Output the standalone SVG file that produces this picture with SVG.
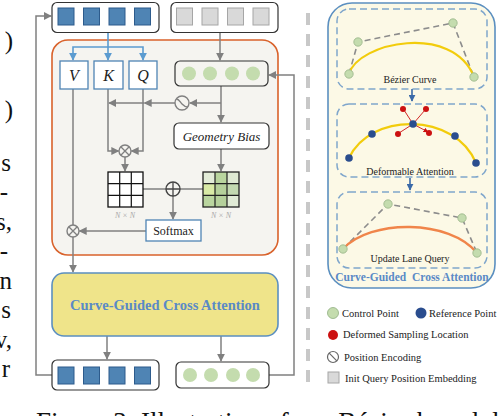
<svg xmlns="http://www.w3.org/2000/svg" width="498" height="416" viewBox="0 0 498 416">
<defs>
<style>
.t{font-family:"Liberation Serif","Times New Roman",serif;fill:#222}
.ln{fill:none;stroke:#808080;stroke-width:1.5}
.bl{fill:none;stroke:#5b9bd0;stroke-width:1.6}
.tok{fill:#fff;stroke:#333;stroke-width:1.2}
.bsq{fill:#4f84b4;stroke:#2d5b8c;stroke-width:1}
.gsq{fill:#d9d9d9;stroke:#a6a6a6;stroke-width:1}
.gc{fill:#c4dcae;stroke:none}
.gcs{fill:#c4dcae;stroke:#98b488;stroke-width:0.8}
.bp{fill:#2a4d8e}
.rp{fill:#cc1111}
.sub{fill:none;stroke:#7fa6cc;stroke-width:1.5;stroke-dasharray:7 4}
.poly{fill:none;stroke:#8c8c8c;stroke-width:1.6;stroke-dasharray:6 4}
.lg{font-family:"Liberation Serif","Times New Roman",serif;font-size:10.5px;fill:#222}
.pg{font-family:"Liberation Serif","Times New Roman",serif;font-size:25px;fill:#111}
</style>
<marker id="ag" viewBox="0 0 10 10" refX="9" refY="5" markerWidth="8" markerHeight="8" markerUnits="userSpaceOnUse" orient="auto"><path d="M0,0 L10,5 L0,10 z" fill="#808080"/></marker>
<marker id="ab" viewBox="0 0 10 10" refX="9" refY="5" markerWidth="8" markerHeight="8" markerUnits="userSpaceOnUse" orient="auto"><path d="M0,0 L10,5 L0,10 z" fill="#5b9bd0"/></marker>
<marker id="ad" viewBox="0 0 10 10" refX="9" refY="5" markerWidth="7" markerHeight="7" markerUnits="userSpaceOnUse" orient="auto"><path d="M0,0 L10,5 L0,10 z" fill="#3a6aa8"/></marker>
<marker id="ar" viewBox="0 0 10 10" refX="9" refY="5" markerWidth="5" markerHeight="5" markerUnits="userSpaceOnUse" orient="auto"><path d="M0,0 L10,5 L0,10 z" fill="#cc1111"/></marker>
</defs>
<rect width="498" height="416" fill="#fff"/>

<!-- cut page text -->
<g id="page-text">
<text class="pg" x="13" y="49" text-anchor="end">)</text>
<text class="pg" x="13" y="118" text-anchor="end">)</text>
<text class="pg" x="11" y="171" text-anchor="end">s</text>
<text class="pg" x="8" y="200" text-anchor="end">-</text>
<text class="pg" x="12" y="230" text-anchor="end">s,</text>
<text class="pg" x="8" y="259" text-anchor="end">-</text>
<text class="pg" x="12" y="289" text-anchor="end">n</text>
<text class="pg" x="11" y="318" text-anchor="end">s</text>
<text class="pg" x="12" y="348" text-anchor="end">v,</text>
<text class="pg" x="10" y="377" text-anchor="end">r</text>
<text class="pg" x="36" y="431" style="font-size:27px">Figure 3: Illustration of our Bézier-based d</text>
</g>

<!-- orange block (background) -->
<g id="self-attn-block">
<rect x="52" y="40" width="226" height="215" rx="16" fill="#f5f4f0" stroke="#d9622b" stroke-width="1.6"/>
</g>

<!-- connectors -->
<g id="connectors">
<path class="ln" d="M52,375 H36 V16 H51" marker-end="url(#ag)"/>
<path class="ln" d="M269,375 H294 V75 H269" marker-end="url(#ag)"/>
<path class="bl" d="M108,32 V60" marker-end="url(#ab)"/>
<path class="bl" d="M108,47 H73 V60" marker-end="url(#ab)"/>
<path class="bl" d="M108,47 H143 V60" marker-end="url(#ab)"/>
<path class="ln" d="M220,32 V60" marker-end="url(#ag)"/>
<path class="ln" d="M221,86 V122" marker-end="url(#ag)"/>
<path class="ln" d="M221,103 H190" marker-end="url(#ag)"/>
<path class="ln" d="M175,103 H144.5" marker-end="url(#ag)"/>
<path class="ln" d="M144,103 H109" marker-end="url(#ag)"/>
<path class="ln" d="M108,89 V151 H118.5" marker-end="url(#ag)"/>
<path class="ln" d="M143,89 V151 H131.5" marker-end="url(#ag)"/>
<path class="ln" d="M125,157 V171" marker-end="url(#ag)"/>
<path class="ln" d="M221,149 V171" marker-end="url(#ag)"/>
<path class="ln" d="M143,189 H166 M180,189 H203"/>
<path class="ln" d="M173,196 V219" marker-end="url(#ag)"/>
<path class="ln" d="M146,231 H79.5" marker-end="url(#ag)"/>
<path class="ln" d="M73,89 V225"/>
<path class="ln" d="M73,237 V272" marker-end="url(#ag)"/>
<path class="ln" d="M107,336 V359" marker-end="url(#ag)"/>
<path class="ln" d="M221,336 V361" marker-end="url(#ag)"/>
</g>

<!-- top tokens -->
<g id="query-tokens-in">
<rect class="tok" x="52" y="2.5" width="107" height="30" rx="5"/>
<rect class="bsq" x="58" y="8" width="16" height="17"/>
<rect class="bsq" x="83.5" y="8" width="16" height="17"/>
<rect class="bsq" x="109" y="8" width="16" height="17"/>
<rect class="bsq" x="134.5" y="8" width="16" height="17"/>
</g>
<g id="pos-embed-in">
<rect class="tok" x="171" y="2.5" width="107" height="30" rx="5"/>
<rect class="gsq" x="176.5" y="8" width="16" height="17"/>
<rect class="gsq" x="202" y="8" width="16" height="17"/>
<rect class="gsq" x="227.5" y="8" width="16" height="17"/>
<rect class="gsq" x="253" y="8" width="16" height="17"/>
</g>

<g id="node-V">
<rect x="60" y="61" width="28" height="28" fill="#fff" stroke="#4f84b4" stroke-width="1.3"/>
<text class="t" x="74" y="81" font-size="16" font-style="italic" text-anchor="middle">V</text>
</g>
<g id="node-K">
<rect x="94" y="61" width="29" height="28" fill="#fff" stroke="#4f84b4" stroke-width="1.3"/>
<text class="t" x="108.5" y="81" font-size="16" font-style="italic" text-anchor="middle">K</text>
</g>
<g id="node-Q">
<rect x="129" y="61" width="28" height="28" fill="#fff" stroke="#4f84b4" stroke-width="1.3"/>
<text class="t" x="143" y="81" font-size="16" font-style="italic" text-anchor="middle">Q</text>
</g>
<g id="pos-query">
<rect class="tok" x="175" y="61" width="93" height="25" rx="5" style="fill:#f5f4f0"/>
<circle class="gc" cx="189" cy="73.5" r="7"/>
<circle class="gc" cx="210" cy="73.5" r="7"/>
<circle class="gc" cx="232" cy="73.5" r="7"/>
<circle class="gc" cx="253" cy="73.5" r="7"/>
</g>
<g id="pos-encoding">
<circle cx="182" cy="103" r="7" fill="#f5f4f0" stroke="#808080" stroke-width="1.4"/>
<path d="M176.5,99 C179,99 180,102 182,104 C184,106 185,107 187.5,107" fill="none" stroke="#808080" stroke-width="1.4"/>
</g>
<g id="geometry-bias">
<rect x="174" y="123" width="95" height="26" rx="5" fill="#fff" stroke="#333" stroke-width="1.2"/>
<text class="t" x="221.5" y="140.5" font-size="13" font-style="italic" text-anchor="middle">Geometry Bias</text>
</g>
<g id="mul-qk">
<circle cx="125" cy="151" r="6" fill="#f5f4f0" stroke="#808080" stroke-width="1.4"/>
<path d="M120.8,146.8 L129.2,155.2 M129.2,146.8 L120.8,155.2" stroke="#808080" stroke-width="1.3"/>
</g>
<g id="attn-map">
<rect x="108" y="172" width="35" height="35" fill="#fff" stroke="#111" stroke-width="1.3"/>
<path d="M119.7,172 V207 M131.3,172 V207 M108,183.7 H143 M108,195.3 H143" stroke="#111" stroke-width="1.2"/>
<text class="t" x="125" y="218" font-size="8" font-style="italic" text-anchor="middle" style="fill:#a8a8a8">N × N</text>
</g>
<g id="bias-map">
<rect x="203" y="172" width="12" height="11.7" fill="#e3ecd8"/>
<rect x="215" y="172" width="12" height="11.7" fill="#b9d59e"/>
<rect x="227" y="172" width="12" height="11.7" fill="#dfe9d3"/>
<rect x="203" y="183.7" width="12" height="11.7" fill="#d9eaa6"/>
<rect x="215" y="183.7" width="12" height="11.7" fill="#b5d09b"/>
<rect x="227" y="183.7" width="12" height="11.7" fill="#c3d9b1"/>
<rect x="203" y="195.3" width="12" height="11.7" fill="#bad59f"/>
<rect x="215" y="195.3" width="12" height="11.7" fill="#b5d09b"/>
<rect x="227" y="195.3" width="12" height="11.7" fill="#e1ebd6"/>
<rect x="203" y="172" width="36" height="35" fill="none" stroke="#222" stroke-width="1.3"/>
<path d="M215,172 V207 M227,172 V207 M203,183.7 H239 M203,195.3 H239" stroke="#222" stroke-width="1.2"/>
<text class="t" x="221" y="218" font-size="8" font-style="italic" text-anchor="middle" style="fill:#a8a8a8">N × N</text>
</g>
<g id="add">
<circle cx="173" cy="189" r="7" fill="#f5f4f0" stroke="#444" stroke-width="1.4"/>
<path d="M166,189 H180 M173,182 V196" stroke="#444" stroke-width="1.3"/>
</g>
<g id="softmax">
<rect x="146" y="220" width="55" height="21" fill="#fff" stroke="#4f84b4" stroke-width="1.3"/>
<text class="t" x="173.5" y="235" font-size="12" text-anchor="middle">Softmax</text>
</g>
<g id="mul-v">
<circle cx="73" cy="231" r="6" fill="#f5f4f0" stroke="#808080" stroke-width="1.4"/>
<path d="M68.8,226.8 L77.2,235.2 M77.2,226.8 L68.8,235.2" stroke="#808080" stroke-width="1.3"/>
</g>

<g id="cgca">
<rect x="52" y="273" width="226" height="63" rx="12" fill="#efe48a" stroke="#5b8fc0" stroke-width="1.6"/>
<text x="165" y="310" font-family="'Liberation Serif','Times New Roman',serif" font-size="14.5" font-weight="bold" fill="#5a8ac6" text-anchor="middle">Curve-Guided Cross Attention</text>
</g>

<g id="query-tokens-out">
<rect class="tok" x="52" y="360" width="107" height="30" rx="5"/>
<rect class="bsq" x="58" y="367" width="16" height="17"/>
<rect class="bsq" x="83.5" y="367" width="16" height="17"/>
<rect class="bsq" x="109" y="367" width="16" height="17"/>
<rect class="bsq" x="134.5" y="367" width="16" height="17"/>
</g>
<g id="pos-query-out">
<rect class="tok" x="176" y="362" width="93" height="26" rx="5"/>
<circle class="gc" cx="190" cy="375" r="7"/>
<circle class="gc" cx="211" cy="375" r="7"/>
<circle class="gc" cx="233" cy="375" r="7"/>
<circle class="gc" cx="253" cy="375" r="7"/>
</g>

<!-- separator -->
<path d="M308,13 V388" stroke="#c8c8c8" stroke-width="4" stroke-dasharray="12 9" fill="none"/>

<!-- right panel -->
<g id="cgca-detail">
<rect x="328" y="3" width="167" height="285" rx="24" fill="#fcf9e6" stroke="#5b8fc0" stroke-width="1.6"/>
<text x="412" y="281" font-family="'Liberation Serif','Times New Roman',serif" font-size="11.5" font-weight="bold" fill="#5a8ac6" text-anchor="middle" xml:space="preserve">Curve-Guided  Cross Attention</text>
</g>
<g id="bezier-curve">
<rect class="sub" x="337" y="9" width="150" height="80" rx="12"/>
<path class="poly" d="M349,74 L358,42 L453,23 L474,77"/>
<path d="M349,74 C358,42 453,23 474,77" fill="none" stroke="#f2cc0c" stroke-width="2.2"/>
<circle class="gcs" cx="349" cy="74" r="4.2"/>
<circle class="gcs" cx="358" cy="42" r="4.2"/>
<circle class="gcs" cx="453" cy="23" r="4.2"/>
<circle class="gcs" cx="474" cy="77" r="4.2"/>
<text class="t" x="410" y="83" font-size="10" text-anchor="middle">Bézier Curve</text>
</g>
<g id="deformable-attention">
<rect class="sub" x="337" y="104" width="150" height="73" rx="12"/>
<path d="M349,158 C370,112 455,112 476,163" fill="none" stroke="#f2cc0c" stroke-width="2.2"/>
<path d="M413,124 L404,110 M413,124 L425,110 M413,124 L399,133 M413,124 L428,132" stroke="#cc1111" stroke-width="0.9" marker-end="url(#ar)"/>
<circle class="rp" cx="403" cy="109" r="3"/>
<circle class="rp" cx="426" cy="109" r="3"/>
<circle class="rp" cx="398" cy="134" r="3"/>
<circle class="rp" cx="429" cy="133" r="3"/>
<circle class="bp" cx="349" cy="158" r="3.8"/>
<circle class="bp" cx="372" cy="134" r="3.8"/>
<circle class="bp" cx="413" cy="124" r="3.8"/>
<circle class="bp" cx="455" cy="136" r="3.8"/>
<circle class="bp" cx="476" cy="163" r="3.8"/>
<text class="t" x="410" y="175" font-size="10" text-anchor="middle">Deformable Attention</text>
</g>
<g id="update-query">
<rect class="sub" x="337" y="192" width="150" height="76" rx="12"/>
<path class="poly" d="M343,249 L388,204 L462,218 L477,253"/>
<path d="M343,249 C370,219 450,219 477,253" fill="none" stroke="#f0854a" stroke-width="2.4"/>
<circle class="gcs" cx="343" cy="249" r="4.2"/>
<circle class="gcs" cx="388" cy="204" r="4.2"/>
<circle class="gcs" cx="462" cy="218" r="4.2"/>
<circle class="gcs" cx="477" cy="253" r="4.2"/>
<text class="t" x="410" y="262" font-size="10" text-anchor="middle">Update Lane Query</text>
</g>
<g id="detail-arrows">
<path d="M412,89 V101" stroke="#3a6aa8" stroke-width="1.6" marker-end="url(#ad)"/>
<path d="M410,178 V190" stroke="#3a6aa8" stroke-width="1.6" marker-end="url(#ad)"/>
</g>

<!-- legend -->
<g id="legend">
<circle cx="333" cy="313" r="5.5" fill="#c4dcae" stroke="#8fae80" stroke-width="0.8"/>
<text class="lg" x="342" y="316.5">Control Point</text>
<circle cx="421" cy="313" r="5.5" fill="#2a4d8e"/>
<text class="lg" x="429" y="316.5">Reference Point</text>
<circle cx="333" cy="335" r="5" fill="#cc1111"/>
<text class="lg" x="343" y="338">Deformed Sampling Location</text>
<circle cx="333" cy="357" r="5.5" fill="none" stroke="#666" stroke-width="1.2"/>
<path d="M329.2,353.2 L336.8,360.8" stroke="#666" stroke-width="1.2"/>
<text class="lg" x="344" y="360.5">Position Encoding</text>
<rect x="328" y="372" width="11" height="11" fill="#d9d9d9" stroke="#a6a6a6" stroke-width="1"/>
<text class="lg" x="345" y="381.5">Init Query Position Embedding</text>
</g>
</svg>
